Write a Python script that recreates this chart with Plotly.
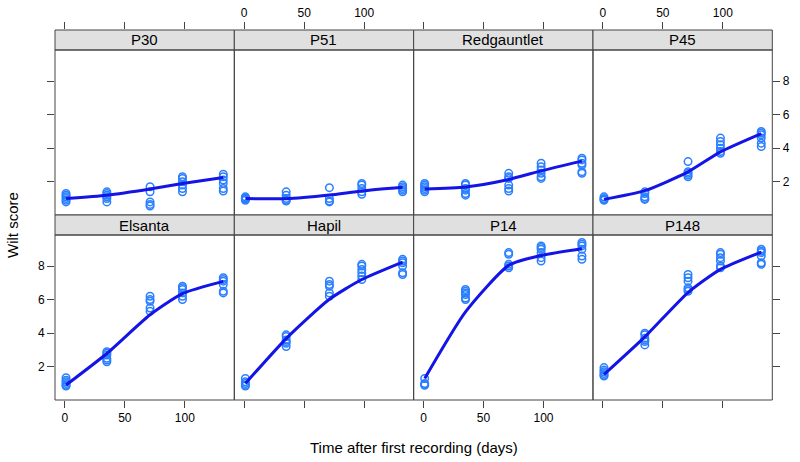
import plotly.graph_objects as go

# ---- data ----
panels = ["P30", "P51", "Redgauntlet", "P45", "Elsanta", "Hapil", "P14", "P148"]
days = [1, 35, 71, 98, 132]

scores = {
    "P30": [[0.8, 0.9, 1.0, 1.1, 1.2, 1.3], [0.8, 1.0, 1.1, 1.2, 1.3, 1.4],
            [1.7, 1.4, 0.8, 0.65, 0.55], [2.3, 2.2, 2.0, 1.8, 1.6, 1.4],
            [2.45, 2.3, 2.1, 1.9, 1.6, 1.45]],
    "P51": [[0.9, 0.95, 1.0, 1.0, 1.05, 1.1], [1.4, 1.2, 1.0, 0.9, 0.85],
            [1.65, 1.0, 0.85, 0.8], [1.9, 1.8, 1.6, 1.4, 1.25],
            [1.8, 1.7, 1.6, 1.5, 1.4]],
    "Redgauntlet": [[1.9, 1.8, 1.7, 1.6, 1.5, 1.4], [1.9, 1.8, 1.6, 1.5, 1.3, 1.2],
                    [2.5, 2.3, 2.2, 1.8, 1.6, 1.45], [3.1, 2.9, 2.7, 2.5, 2.3, 2.2],
                    [3.4, 3.3, 3.1, 3.0, 2.6, 2.5]],
    "P45": [[1.1, 1.0, 0.95, 0.9], [1.4, 1.3, 1.1, 1.0, 0.95],
            [3.2, 2.6, 2.5, 2.4, 2.3], [4.6, 4.4, 4.2, 4.0, 3.8, 3.7],
            [5.0, 4.9, 4.8, 4.6, 4.3, 4.1]],
    "Elsanta": [[1.35, 1.2, 1.1, 1.0, 0.9, 0.85], [2.9, 2.8, 2.7, 2.5, 2.4, 2.3],
                [6.2, 6.0, 5.9, 5.5, 5.3], [6.8, 6.7, 6.6, 6.4, 6.2, 6.0],
                [7.3, 7.2, 7.1, 6.9, 6.5, 6.4]],
    "Hapil": [[1.3, 1.1, 1.0, 0.9, 0.85], [3.9, 3.8, 3.6, 3.5, 3.4, 3.2],
              [7.1, 6.9, 6.8, 6.4, 6.2], [8.1, 8.0, 7.8, 7.6, 7.4, 7.2],
              [8.4, 8.3, 8.2, 8.0, 7.6, 7.5]],
    "P14": [[1.3, 1.0, 0.95, 0.9], [6.6, 6.5, 6.4, 6.3, 6.1, 6.0],
            [8.8, 8.7, 8.1, 8.0, 7.9], [9.2, 9.1, 9.0, 8.8, 8.5, 8.3],
            [9.4, 9.3, 9.2, 9.0, 8.6, 8.4]],
    "P148": [[1.95, 1.8, 1.7, 1.6, 1.5, 1.45], [4.0, 3.9, 3.7, 3.6, 3.5, 3.3],
             [7.5, 7.3, 7.1, 6.7, 6.6, 6.5], [8.8, 8.7, 8.5, 8.3, 8.0, 7.9],
             [9.0, 8.9, 8.8, 8.6, 8.2, 8.1]],
}

smooth = {
    "P30": [1.0, 1.2, 1.57, 1.9, 2.26],
    "P51": [1.0, 0.99, 1.21, 1.45, 1.67],
    "Redgauntlet": [1.57, 1.69, 2.14, 2.65, 3.23],
    "P45": [0.95, 1.47, 2.59, 3.78, 4.87],
    "Elsanta": [0.91, 2.79, 5.1, 6.36, 7.09],
    "Hapil": [1.0, 3.68, 6.02, 7.2, 8.24],
    "P14": [1.3, 5.27, 8.04, 8.63, 9.03],
    "P148": [1.54, 3.78, 6.42, 7.8, 8.83],
}

x_ticks = [0, 50, 100]
y_ticks = [2, 4, 6, 8]

# ---- layout geometry (pixels) ----
W, H = 800, 462
L, R = 55, 772.3
colw = (R - L) / 4
rows = [  # strip_top, plot_top, plot_bottom
    (30, 50, 215),
    (215, 235, 400),
]
Y_LO, Y_HI = 0.02, 9.85          # data range of the panel area
FRAME = "#444444"
FONT = "Liberation Sans, Arial, sans-serif"
HIDDEN = "rgba(0,0,0,0)"


def fx(p):
    return p / W


def fy(p):
    return 1 - p / H


fig = go.Figure()
shapes = []
annotations = []
layout = {}

for i, name in enumerate(panels):
    r, c = divmod(i, 4)
    k = i + 1
    xs = "" if k == 1 else str(k)
    st, pt, pb = rows[r]
    x0, x1 = L + c * colw, L + (c + 1) * colw
    # y axis spans panel + strip so top ticks sit above the strip
    per_px = (Y_HI - Y_LO) / (pb - pt)
    y_top = Y_HI + (pt - st) * per_px

    px, py = [], []
    for d, vals in zip(days, scores[name]):
        px += [d] * len(vals)
        py += vals
    fig.add_trace(go.Scatter(
        x=px, y=py, mode="markers", xaxis="x" + xs, yaxis="y" + xs,
        marker=dict(symbol="circle-open", size=7.5, color="#2a7fff",
                    line=dict(width=1.5, color="#2a7fff")),
        showlegend=False, hoverinfo="x+y"))
    fig.add_trace(go.Scatter(
        x=days, y=smooth[name], mode="lines", xaxis="x" + xs, yaxis="y" + xs,
        line=dict(color="#1414e6", width=3, shape="spline", smoothing=0.6),
        showlegend=False))

    labelled = (c in (0, 2)) if r == 1 else (c in (1, 3))
    xa = dict(domain=[fx(x0), fx(x1)], range=[-8.2, 141.2], tickvals=x_ticks,
              showgrid=False, zeroline=False, showline=False,
              ticks="outside", ticklen=7, tickcolor=FRAME, tickwidth=1,
              showticklabels=True, anchor="y" + xs,
              side="bottom" if r == 1 else "top",
              tickfont=dict(size=12, family=FONT,
                            color="black" if labelled else HIDDEN))
    ya = dict(domain=[fy(pb), fy(st)], range=[Y_LO, y_top], tickvals=y_ticks,
              showgrid=False, zeroline=False, showline=False, anchor="x" + xs,
              tickcolor=FRAME, tickwidth=1, ticklen=7)
    if c == 0:
        ya.update(side="left", ticks="outside", showticklabels=True,
                  tickfont=dict(size=12, family=FONT,
                                color="black" if r == 1 else HIDDEN))
    elif c == 3:
        ya.update(side="right", ticks="outside", showticklabels=True,
                  tickfont=dict(size=12, family=FONT,
                                color="black" if r == 0 else HIDDEN))
    else:
        ya.update(ticks="", showticklabels=False)
    layout["xaxis" + xs] = xa
    layout["yaxis" + xs] = ya

    # strip
    shapes.append(dict(type="rect", xref="paper", yref="paper",
                       x0=fx(x0), x1=fx(x1), y0=fy(pt), y1=fy(st),
                       fillcolor="#e0e0e0", line=dict(color=FRAME, width=1),
                       layer="above"))
    # panel frame
    shapes.append(dict(type="rect", xref="paper", yref="paper",
                       x0=fx(x0), x1=fx(x1), y0=fy(pb), y1=fy(pt),
                       line=dict(color=FRAME, width=1), layer="above"))
    annotations.append(dict(text=name, xref="paper", yref="paper",
                            x=fx((x0 + x1) / 2), y=fy((st + pt) / 2),
                            showarrow=False, xanchor="center", yanchor="middle",
                            font=dict(size=15, color="black", family=FONT)))

annotations.append(dict(text="Time after first recording (days)", xref="paper",
                        yref="paper", x=fx((L + R) / 2), y=fy(447),
                        showarrow=False, xanchor="center", yanchor="middle",
                        font=dict(size=15, color="black", family=FONT)))
annotations.append(dict(text="Wilt score", xref="paper", yref="paper",
                        x=fx(12), y=fy(225), textangle=-90, showarrow=False,
                        xanchor="center", yanchor="middle",
                        font=dict(size=15, color="black", family=FONT)))

fig.update_layout(width=W, height=H, margin=dict(l=0, r=0, t=0, b=0),
                  paper_bgcolor="white", plot_bgcolor="white",
                  shapes=shapes, annotations=annotations, **layout)

fig.write_html("out.html", config={"displayModeBar": False},
               post_script="document.body.style.margin='0';"
                           "document.body.style.overflow='hidden';")
